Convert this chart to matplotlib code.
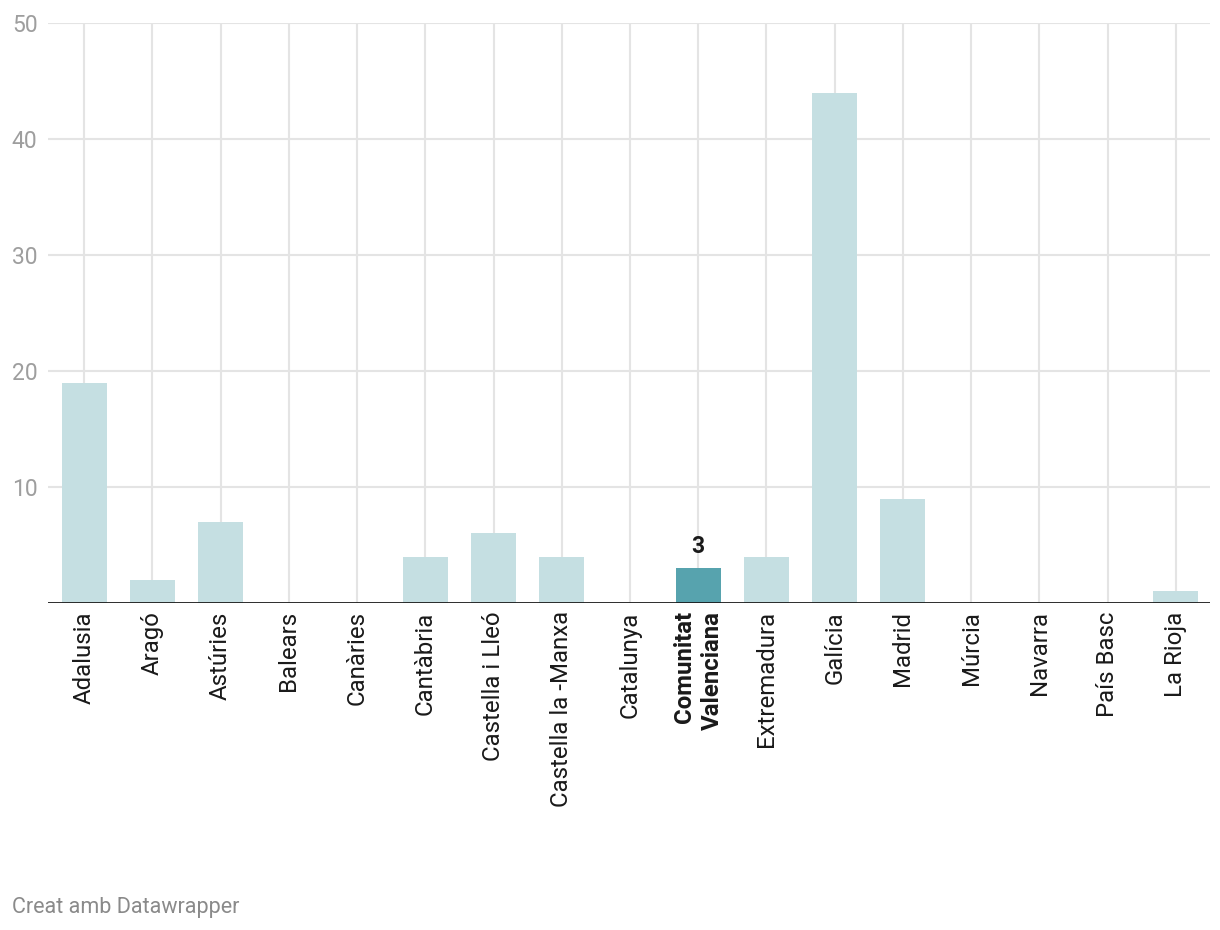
import numpy as np
from matplotlib import pyplot as plt

plt.rcParams['font.family'] = ['Roboto', 'DejaVu Sans']

regions = ["Adalusia", "Aragó", "Astúries", "Balears", "Canàries", "Cantàbria",
           "Castella i Lleó", "Castella la -Manxa", "Catalunya",
           "Comunitat\nValenciana", "Extremadura", "Galícia", "Madrid",
           "Múrcia", "Navarra", "País Basc", "La Rioja"]
values = [19, 2, 7, 0, 0, 4, 6, 4, 0, 3, 4, 44, 9, 0, 0, 0, 1]
highlight = "Comunitat\nValenciana"
yticks = [10, 20, 30, 40, 50]

light = "#c5dfe2"
dark = "#57a3ae"

fig = plt.figure(figsize=(12.2, 9.3), dpi=100)
ax = fig.add_axes([48/1220, 1 - 603/930, 1162/1220, 580/930])

x = np.arange(len(regions))
colors = [dark if r == highlight else light for r in regions]

# vertical grid lines at every category
for xi in x:
    ax.plot([xi, xi], [0, 50], color="#e4e4e4", lw=1.5, zorder=0)
for yt in yticks:
    ax.axhline(yt, color="#e4e4e4", lw=1.5, zorder=0)

ax.bar(x, values, width=0.66, color=colors, zorder=2)
ax.axhline(0, color="#1a1a1a", lw=2, zorder=3)

i = regions.index(highlight)
ax.text(x[i], values[i] + 0.9, str(values[i]), ha="center", va="bottom",
        fontsize=16.5, fontweight="bold", color="#1a1a1a")

ax.set_xlim(-0.53, len(regions) - 0.5)
ax.set_ylim(0, 50)
ax.set_xticks(x)
ax.set_xticklabels(regions, rotation=90, fontsize=17.3, color="#1a1a1a",
                   va="top", ha="center", multialignment="right",
                   linespacing=1.3)
for lab in ax.get_xticklabels():
    if lab.get_text() == highlight:
        lab.set_fontweight("bold")
ax.set_yticks(yticks)
ax.set_yticklabels([str(t) for t in yticks], fontsize=16.5, color="#9e9e9e")
for lab in ax.get_yticklabels():
    lab.set_ha("left")
ax.tick_params(axis="y", length=0, pad=26)
ax.tick_params(axis="x", length=0, pad=6)
for s in ax.spines.values():
    s.set_visible(False)

fig.text(12/1220, 1 - 907/930, "Creat amb Datawrapper", fontsize=15.5,
         color="#8a8a8a", ha="left", va="center")

plt.savefig("out.png", dpi=100)
